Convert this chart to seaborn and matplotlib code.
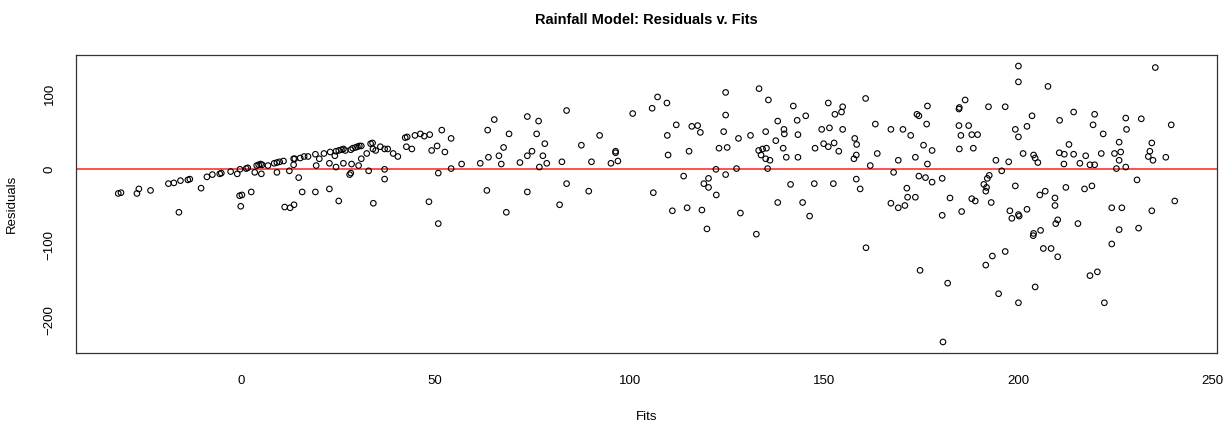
import matplotlib
matplotlib.use("Agg")
import matplotlib.pyplot as plt
import seaborn as sns
import pandas as pd

title = "Rainfall Model: Residuals v. Fits"
x_label = "Fits"
y_label = "Residuals"
x_ticks = [0, 50, 100, 150, 200, 250]
y_ticks = [-200, -100, 0, 100]

fits = [
    -31.5, -30.8, -26.7, -26.2, -23.2, -18.6, -17.2, -15.5, -15.9, -13.6, -13.1, -10.2, -8.7, -7.3, -5.4, -5.0,
    -2.6, -0.9, -0.2, 1.4, 1.8, -0.3, 0.3, 0.0, 2.7, 3.6, 4.1, 4.6, 5.1, 5.5, 5.3, 7.0, 8.6, 9.3, 10.0, 11.0,
    9.3, 11.3, 12.7, 13.7, 12.5, 13.6, 13.9, 13.6, 14.9, 15.3, 16.3, 17.3, 15.8, 19.2, 19.4, 20.2, 19.2, 21.4,
    23.0, 22.8, 22.8, 24.2, 24.5, 24.5, 25.2, 25.9, 26.4, 26.9, 25.2, 26.4, 28.0, 28.3, 28.5, 28.3, 28.8, 29.5,
    30.0, 30.5, 31.0, 30.3, 31.0, 32.4, 32.9, 33.4, 33.9, 34.1, 34.0,
    34.7, 35.9, 37.0, 37.8, 37.0, 37.0, 39.2, 40.4, 42.3, 42.8, 42.6, 44.0, 44.8, 46.2, 47.2, 48.6, 49.1, 50.5,
    51.7, 52.5, 50.8, 48.4, 50.8, 54.1, 54.1, 56.8, 61.6, 63.5, 65.2, 63.7, 63.3, 66.4, 67.0, 67.6, 69.0, 68.3,
    71.8,
    73.7, 76.6, 76.1, 78.2, 73.7, 74.9, 77.7, 76.8, 78.7, 73.7, 83.8, 82.6, 83.8, 82.0, 87.6, 92.3, 90.2, 89.5,
    95.2, 96.4, 96.4, 97.0, 100.8, 105.8, 107.2, 109.6, 109.7, 109.9, 106.1,
    112.0, 113.9, 111.0, 114.8, 115.3, 116.0, 117.5, 118.2, 118.6, 119.1, 120.3, 120.3, 119.9, 122.2, 122.3,
    123.0, 125.1, 124.2, 124.7, 124.7, 124.7, 127.5, 128.0, 128.5, 131.1, 132.6, 133.3, 133.2, 134.2, 135.2,
    133.8, 135.0, 135.0, 136.1, 135.5, 135.7, 137.6, 138.1, 138.1, 139.7, 139.8, 139.5, 140.3, 141.4, 142.1,
    143.1, 143.3, 143.3, 144.5, 145.3, 146.3, 147.5, 147.7,
    151.1, 149.4, 151.4, 149.9, 151.1, 152.6, 152.8, 154.5, 154.8, 153.8, 154.8, 152.4, 157.9, 158.4, 158.3,
    157.7, 158.3, 159.3, 160.7, 161.9, 160.8, 163.2, 163.7, 167.2, 167.9, 167.2, 169.1, 170.8, 169.1, 170.3,
    171.3, 171.5, 173.5, 172.3, 173.5, 173.9, 174.4, 174.7, 174.4, 176.1, 177.8, 175.6, 176.6, 176.4, 176.6,
    177.8, 180.4, 180.4, 182.4, 181.8, 180.6, 184.7, 184.8, 184.7, 185.2, 184.8, 185.4,
    186.3, 187.2, 188.0, 189.5, 188.4, 188.0, 188.9, 192.3, 196.6, 194.2, 197.5, 195.7, 192.5, 192.0, 191.1,
    191.8, 191.6, 193.0, 191.6, 193.3, 196.6, 194.9, 200.0, 207.6, 199.2, 200.0, 202.2, 203.5, 201.2, 199.2,
    197.8, 198.3, 200.0, 200.2, 202.2, 204.3, 200.0, 203.9, 204.3, 205.0, 205.5, 206.9, 203.9, 203.8, 205.7,
    206.4, 208.4, 210.1, 209.4, 209.4, 210.1, 209.6, 210.6, 210.5, 211.8, 211.7, 212.2, 213.0, 214.2, 214.2,
    215.3, 215.8, 217.3, 217.0, 218.9, 218.4, 219.6, 219.6, 219.2, 221.8, 221.3, 218.4, 220.3, 222.1, 200.0,
    224.0, 226.6, 224.0, 225.9, 230.9, 234.3, 240.2, 230.5, 225.2, 227.6, 225.9, 224.7, 226.3, 225.9, 227.6,
    227.8, 231.6, 234.3, 233.8, 233.4, 234.6, 237.9, 239.3, 235.2,
]

residuals = [
    -32, -31, -32, -26, -28, -19, -18, -15, -57, -14, -13, -25, -10, -7, -6, -5,
    -3, -6, 0, 1, 2, -35, -34, -49, -30, -4, 5, 6, 7, 6, -6, 5, 8, 9, 10, 11,
    -4, -50, -51, -47, -2, 14, 14, 6, -11, 15, 17, 17, -30, 20, 5, 14, -30, 21,
    23, 8, -26, 18, 3, 24, 25, 26, 27, 25, -42, 8, -7, -5, 7, 26, 28, 29,
    30, 31, 31, 5, 14, 21, -2, 34, 35, -45, 27,
    25, 30, 27, 27, 0, -13, 21, 17, 42, 43, 30, 27, 45, 47, 44, 46, 25, 31,
    52, 23, -5, -43, -72, 41, 1, 7, 8, 52, 66, 16, -28, 18, 7, 29, 47, -57,
    9,
    70, 64, 47, 34, 18, 24, 18, 3, 8, -30, 78, 10, -19, -47, 32, 45, 10, -29,
    8, 24, 22, 11, 74, 81, 96, 88, 45, 19, -31,
    59, -9, -55, -51, 24, 57, 58, 49, -54, -19, -12, -24, -79, 0, -34,
    28, 29, 50, 72, 102, -7, 1, 41, -58, 45, -86, 107, 25, 27, 28,
    19, 50, 14, 12, 1, 92, 38, 64, -44, 53, 47, 28, 16, -20, 84,
    65, 46, 16, -44, 71, -62, -19, 28,
    88, 53, 55, 34, 30, 35, 73, 76, 83, 24, 53, -19, 41, 33, 19,
    14, -13, -26, 94, 5, -104, 60, 21, 53, -4, -45, -51, -48, 12, 53,
    -25, -37, -37, 45, 16, 73, 71, -134, -9, -11, -17, 32, 84, 60, 7,
    25, -12, -61, -38, -151, -229, 80, 82, 58, 45, 27, -56,
    92, 58, 46, 46, 28, -39, -42, 83, 83, 12, 10, -2, -8, -12, -20,
    -24, -29, -44, -127, -115, -109, -165, 116, 110, 53, 43, 57, 71, 21, -22,
    -55, -65, -60, -62, -53, -156, -177, 19, 15, 9, -34, -29, -85, -88, -81,
    -105, -105, -116, -38, -48, -67, -72, 65, 22, 20, 7, -24, 33, 76, 20,
    -72, 8, 18, -26, -22, 6, 6, 73, 59, 47, 21, -141, -136, -177, 137,
    -51, -51, -99, -80, -78, -55, -42, -14, 1, 3, 12, 21, 23, 36, 68,
    53, 67, 35, 24, 17, 12, 16, 59, 135,
]

df = pd.DataFrame({"Fits": fits, "Residuals": residuals})

sns.set_style("white")
plt.rcParams["font.family"] = ["Liberation Sans", "DejaVu Sans"]

fig = plt.figure(figsize=(12.3, 4.25), dpi=100)
ax = fig.add_axes([76 / 1230, 1 - 353 / 425, (1217 - 76) / 1230, (353 - 55) / 425])

sns.scatterplot(data=df, x="Fits", y="Residuals", ax=ax, marker="o",
                s=16, facecolors="none", edgecolor="black", linewidth=0.8)
ax.axhline(0, color="#ff2020", linewidth=1.1, zorder=0)

xmin, xmax = min(fits), max(fits)
ymin, ymax = min(residuals), max(residuals)
xpad = 0.04 * (xmax - xmin)
ypad = 0.04 * (ymax - ymin)
ax.set_xlim(xmin - xpad, xmax + xpad)
ax.set_ylim(ymin - ypad, ymax + ypad)

ax.set_xticks(x_ticks)
ax.set_yticks(y_ticks)
ax.tick_params(axis="both", direction="out", length=5.5, width=0.8, color="black",
               labelsize=9.5, labelcolor="black")
ax.tick_params(axis="x", pad=10)
ax.tick_params(axis="y", pad=9)
for lab in ax.get_yticklabels():
    lab.set_rotation(90)
    lab.set_va("center")

for sp in ax.spines.values():
    sp.set_visible(True)
    sp.set_color("#333333")
    sp.set_linewidth(0.9)

ax.set_xlabel(x_label, fontsize=9.5, color="black")
ax.set_ylabel(y_label, fontsize=9.5, color="black")
ax.xaxis.set_label_coords(0.5, -0.195)
ax.yaxis.set_label_coords(-0.051, 0.5)
ax.set_title(title, fontsize=10.5, fontweight="bold", pad=22, color="black")

fig.savefig("out.png", dpi=100, facecolor="white")
